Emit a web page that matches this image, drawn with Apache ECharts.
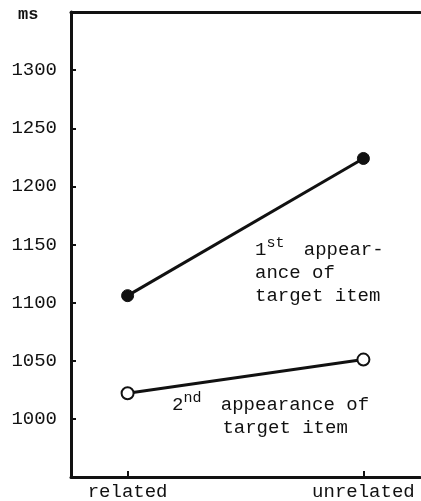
<!DOCTYPE html>
<html>
<head>
<meta charset="utf-8">
<script src="https://cdn.jsdelivr.net/npm/echarts@6/dist/echarts.min.js"></script>
<style>
  html, body { margin: 0; padding: 0; background: #fff; }
  #chart { width: 421px; height: 501px; }
</style>
</head>
<body>
<div id="chart"></div>
<script>
// data
const categories = ['related', 'unrelated'];
const firstAppearance = [1106, 1224];
const secondAppearance = [1022, 1051];
const yTickLabels = [1000, 1050, 1100, 1150, 1200, 1250, 1300];

const FONT = '"Liberation Mono", "DejaVu Sans Mono", monospace';
const INK = '#111';

const toPoints = vals => vals.map((v, i) => [i, v]);

const chart = echarts.init(document.getElementById('chart'));

chart.setOption({
  animation: false,
  backgroundColor: '#fff',
  grid: { left: 71, right: 1, top: 12, bottom: 24 },
  xAxis: [
    {
      type: 'value',
      min: -0.24,
      max: 1.24,
      splitLine: { show: false },
      axisLine: { onZero: false, lineStyle: { color: INK, width: 3 } },
      axisTick: { inside: true, length: 6, customValues: [0, 1], lineStyle: { color: INK, width: 2 } },
      axisLabel: {
        customValues: [0, 1],
        formatter: v => categories[Math.round(v)],
        color: INK, fontFamily: FONT, fontSize: 19, margin: 5
      }
    },
    {
      // top frame line
      type: 'value',
      position: 'top',
      min: -0.24,
      max: 1.24,
      splitLine: { show: false },
      axisLine: { show: true, onZero: false, lineStyle: { color: INK, width: 3 } },
      axisTick: { show: false },
      axisLabel: { show: false }
    }
  ],
  yAxis: {
    type: 'value',
    min: 950,
    max: 1350,
    interval: 50,
    splitLine: { show: false },
    axisLine: { show: true, onZero: false, lineStyle: { color: INK, width: 3 } },
    axisTick: { inside: true, length: 5, customValues: yTickLabels, lineStyle: { color: INK, width: 2 } },
    axisLabel: {
      customValues: yTickLabels,
      formatter: v => String(v),
      color: INK, fontFamily: FONT, fontSize: 19, margin: 14
    }
  },
  graphic: [
    { type: 'text', left: 18, top: 6, style: { text: 'ms', fill: INK, font: 'bold 17px ' + FONT } },
    {
      type: 'text', left: 255, top: 236,
      style: {
        text: '{n|1}{sup|st}{n| appear-}\n{n|ance of}\n{n|target item}',
        fill: INK,
        lineHeight: 23,
        rich: {
          n: { fontFamily: FONT, fontSize: 19, lineHeight: 23, fill: INK, verticalAlign: 'bottom' },
          sup: { fontFamily: FONT, fontSize: 15, lineHeight: 23, fill: INK, verticalAlign: 'top', padding: [0, 8, 10, 0] }
        }
      }
    },
    {
      type: 'text', left: 172, top: 391,
      style: {
        text: '{n|2}{sup|nd}{n| appearance of}\n{sp|      }{n|target item}',
        fill: INK,
        lineHeight: 23,
        rich: {
          n: { fontFamily: FONT, fontSize: 19, lineHeight: 23, fill: INK, verticalAlign: 'bottom' },
          sup: { fontFamily: FONT, fontSize: 15, lineHeight: 23, fill: INK, verticalAlign: 'top', padding: [0, 8, 10, 0] },
          sp: { fontFamily: FONT, fontSize: 14, lineHeight: 23 }
        }
      }
    }
  ],
  series: [
    {
      name: '1st appearance',
      type: 'line',
      data: toPoints(firstAppearance),
      symbol: 'circle',
      symbolSize: 12,
      lineStyle: { color: INK, width: 3 },
      itemStyle: { color: INK, borderColor: INK, borderWidth: 1 }
    },
    {
      name: '2nd appearance',
      type: 'line',
      data: toPoints(secondAppearance),
      symbol: 'circle',
      symbolSize: 12,
      lineStyle: { color: INK, width: 3 },
      itemStyle: { color: '#fff', borderColor: INK, borderWidth: 2 }
    }
  ]
});
</script>
</body>
</html>
